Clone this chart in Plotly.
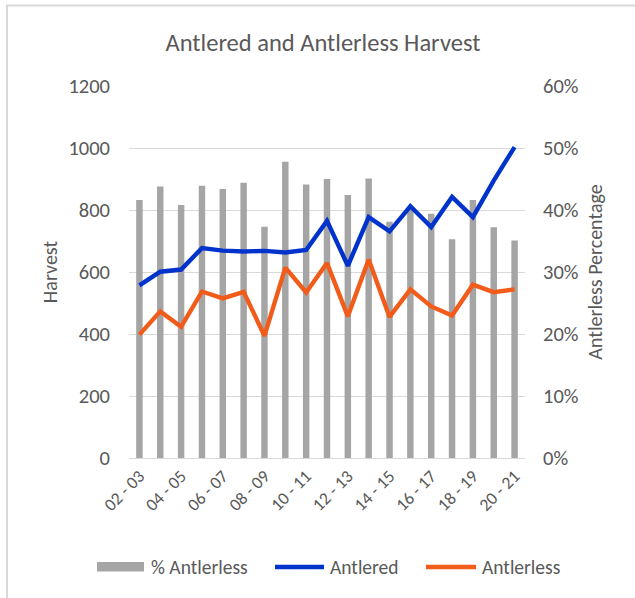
import plotly.graph_objects as go

seasons = ["02 - 03", "03 - 04", "04 - 05", "05 - 06", "06 - 07", "07 - 08", "08 - 09",
           "09 - 10", "10 - 11", "11 - 12", "12 - 13", "13 - 14", "14 - 15", "15 - 16",
           "16 - 17", "17 - 18", "18 - 19", "19 - 20", "20 - 21"]
antlered = [557, 601, 608, 677, 669, 666, 668, 663, 671, 765, 620, 777, 731, 812,
            745, 842, 777, 895, 1003]
antlerless = [398, 473, 423, 537, 515, 536, 394, 614, 534, 629, 457, 640, 455, 544,
              489, 460, 559, 535, 544]
pct_antlerless = [0.416, 0.438, 0.408, 0.439, 0.434, 0.444, 0.373, 0.478, 0.441, 0.450,
                  0.424, 0.451, 0.381, 0.401, 0.394, 0.353, 0.416, 0.372, 0.351]
tick_labels = seasons[::2]

GRAY_TXT = "#595959"
BAR_C = "#A5A5A5"
BLUE = "#0033CC"
ORANGE = "#F25C1A"
FONT = "Carlito, Calibri, Lato, sans-serif"

W, H = 635, 598
L, R, T, B = 129, 110, 86, 140
PW, PH = W - L - R, H - T - B


def px(x):
    return (x - L) / PW


def py(y):
    return (H - B - y) / PH


fig = go.Figure()
fig.add_trace(go.Bar(x=seasons, y=pct_antlerless, name="% Antlerless",
                     marker=dict(color=BAR_C, line=dict(width=0)),
                     yaxis="y", showlegend=False))
fig.add_trace(go.Scatter(x=seasons, y=antlered, name="Antlered", mode="lines",
                         line=dict(color=BLUE, width=4.4), yaxis="y2", showlegend=False))
fig.add_trace(go.Scatter(x=seasons, y=antlerless, name="Antlerless", mode="lines",
                         line=dict(color=ORANGE, width=4.4), yaxis="y2", showlegend=False))

shapes = [
    # chart frame (left & top edges)
    dict(type="line", xref="paper", yref="paper", x0=px(7), x1=px(7), y0=py(H), y1=py(5),
         line=dict(color="#D9D9D9", width=2)),
    dict(type="line", xref="paper", yref="paper", x0=px(6), x1=px(W), y0=py(5.5), y1=py(5.5),
         line=dict(color="#D9D9D9", width=2)),
    # custom legend symbols
    dict(type="rect", xref="paper", yref="paper", x0=px(97), x1=px(144), y0=py(571.5), y1=py(562),
         fillcolor=BAR_C, line=dict(width=0)),
    dict(type="line", xref="paper", yref="paper", x0=px(275), x1=px(324), y0=py(567), y1=py(567),
         line=dict(color=BLUE, width=4.4)),
    dict(type="line", xref="paper", yref="paper", x0=px(426), x1=px(476), y0=py(567), y1=py(567),
         line=dict(color=ORANGE, width=4.4)),
]

legend_items = [("% Antlerless", 149), ("Antlered", 328), ("Antlerless", 480)]
annotations = [dict(text=t, xref="paper", yref="paper", x=px(xp), y=py(567), xanchor="left",
                    yanchor="middle", showarrow=False, font=dict(size=19.5, color=GRAY_TXT, family=FONT))
               for t, xp in legend_items]

fig.update_layout(
    width=W, height=H,
    margin=dict(l=L, r=R, t=T, b=B),
    paper_bgcolor="white", plot_bgcolor="white",
    font=dict(family=FONT, color=GRAY_TXT, size=20),
    title=dict(text="Antlered and Antlerless Harvest", x=323 / W, xanchor="center",
               y=1 - 42 / H, yanchor="middle", xref="container", yref="container",
               font=dict(size=24.5, color=GRAY_TXT, family=FONT)),
    bargap=0.69,
    showlegend=False,
    xaxis=dict(type="category", tickmode="array", tickvals=tick_labels, ticktext=tick_labels,
               tickangle=-45, showgrid=False, showline=True, linecolor="#D9D9D9", linewidth=1,
               ticks="", tickfont=dict(size=17.5, color=GRAY_TXT)),
    yaxis=dict(side="right", range=[0, 0.6], dtick=0.1, tickformat=".0%",
               showgrid=True, gridcolor="#D9D9D9", gridwidth=1, zeroline=False,
               title=dict(text="Antlerless Percentage", standoff=10, font=dict(size=20)),
               tickfont=dict(size=20.5), ticklabelstandoff=17),
    yaxis2=dict(side="left", overlaying="y", range=[0, 1200], dtick=200,
                showgrid=False, zeroline=False,
                title=dict(text="Harvest", standoff=5, font=dict(size=20)),
                tickfont=dict(size=20.5), ticklabelstandoff=18),
    shapes=shapes,
    annotations=annotations,
)

fig.write_html("out.html")
